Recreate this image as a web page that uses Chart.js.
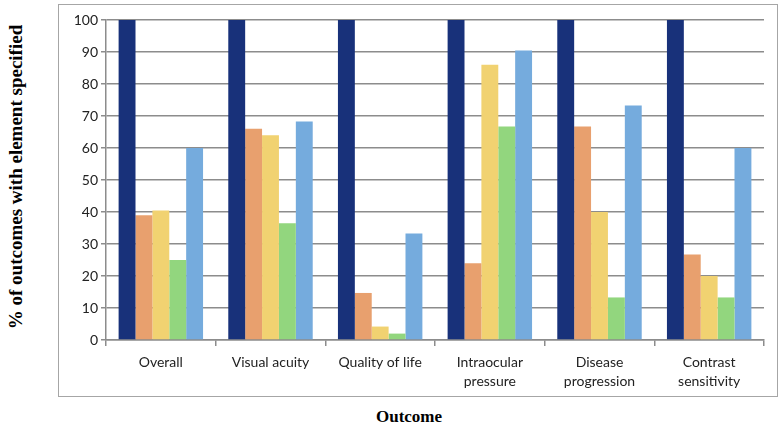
<!DOCTYPE html>
<html>
<head>
<meta charset="utf-8">
<script src="https://cdn.jsdelivr.net/npm/chart.js@4.4.1/dist/chart.umd.min.js"></script>
<style>
html,body{margin:0;padding:0;background:#fff;}
body{width:782px;height:427px;position:relative;overflow:hidden;}
#box{position:absolute;left:58px;top:4px;width:718px;height:391px;border:1px solid #a6a6a6;}
#ytitle{position:absolute;left:16px;top:177px;transform:translate(-50%,-50%) rotate(-90deg);white-space:nowrap;
 font:bold 19px "Liberation Serif",serif;color:#000;}
#xtitle{position:absolute;left:409px;top:417px;transform:translate(-50%,-50%);white-space:nowrap;
 font:bold 17px "Liberation Serif",serif;color:#000;}
</style>
</head>
<body>
<div id="ytitle">% of outcomes with element specified</div>
<div id="box"><canvas id="chartOutcome"></canvas></div>
<div id="xtitle">Outcome</div>
<script>
// categories and values (% of outcomes with element specified)
const outcomes=["Overall","Visual acuity","Quality of life",["Intraocular","pressure"],["Disease","progression"],["Contrast","sensitivity"]];
const element1=[100,100,100,100,100,100];
const element2=[39,66,14.7,24,66.7,26.7];
const element3=[40.5,64,4.2,86,40,20];
const element4=[25,36.5,2,66.7,13.3,13.3];
const element5=[60,68.3,33.3,90.5,73.3,60];
const yTicks=[0,10,20,30,40,50,60,70,80,90,100];

const navy="#18317a";
const orange="#e8a06e";
const yellow="#f1d271";
const green="#92d67e";
const blue="#75abdd";
const gridGrey="#8c8c8c";

Chart.defaults.font.family="Lato";
Chart.defaults.font.size=14;
Chart.defaults.color="#222";

new Chart(document.getElementById("chartOutcome"),{
type:"bar",
data:{
labels:outcomes,
datasets:[
{label:"Element 1",data:element1,backgroundColor:navy},
{label:"Element 2",data:element2,backgroundColor:orange},
{label:"Element 3",data:element3,backgroundColor:yellow},
{label:"Element 4",data:element4,backgroundColor:green},
{label:"Element 5",data:element5,backgroundColor:blue}
]
},
options:{
responsive:true,
maintainAspectRatio:false,
animation:false,
layout:{padding:{top:15,right:13,bottom:0,left:0}},
datasets:{bar:{categoryPercentage:0.77,barPercentage:1}},
plugins:{legend:{display:false},tooltip:{enabled:false}},
scales:{
x:{
grid:{display:true,drawOnChartArea:false,drawTicks:true,tickLength:6,color:gridGrey,lineWidth:1.5},
border:{color:gridGrey,width:1.5},
ticks:{padding:7,maxRotation:0,autoSkip:false,font:{size:14,lineHeight:1.35}},
afterFit:function(s){s.height=56;}
},
y:{
min:0,max:100,
afterBuildTicks:function(s){s.ticks=yTicks.map(v=>({value:v}));},
grid:{color:gridGrey,lineWidth:1.5,tickLength:5},
border:{color:gridGrey,width:1.5},
ticks:{padding:3},
afterFit:function(s){s.width=47;}
}
}
}
});
</script>
</body>
</html>
